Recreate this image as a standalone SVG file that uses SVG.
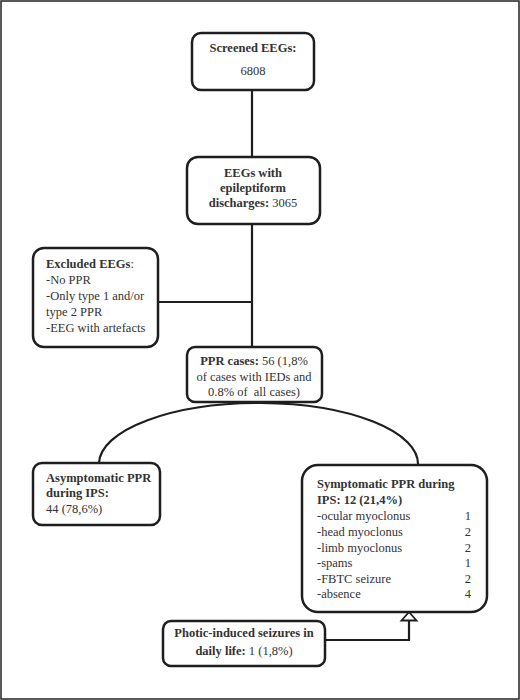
<svg xmlns="http://www.w3.org/2000/svg" width="520" height="700" viewBox="0 0 520 700">
<style>
.box{fill:#fff;stroke:#1e1e1e;stroke-width:2.5}
.t{font-family:"Liberation Serif","Times New Roman",serif;font-size:12.5px;fill:#333}
.b{font-weight:bold}
.c{text-anchor:middle}
.e{text-anchor:end}
.ln{fill:none;stroke:#1e1e1e;stroke-width:2.2}
</style>
<rect x="1" y="1" width="518" height="698" fill="#fff" stroke="#222" stroke-width="1.5"/>
<g id="connectors">
<line class="ln" x1="252" y1="90" x2="252" y2="157"/>
<line class="ln" x1="252" y1="224" x2="252" y2="347"/>
<line class="ln" x1="158" y1="302" x2="252" y2="302"/>
<path class="ln" d="M 99 463 A 159.5 61 0 0 1 418 465"/>
<polyline class="ln" points="325,640 409,640 409,620"/>
<polygon points="409,612 401.5,620.5 416.5,620.5" fill="#fff" stroke="#1e1e1e" stroke-width="1.8"/>
</g>
<g id="screened">
<rect class="box" x="192" y="33" width="122" height="57" rx="9"/>
<text class="t b c" x="253" y="52">Screened EEGs:</text>
<text class="t c" x="253" y="75">6808</text>
</g>
<g id="epileptiform">
<rect class="box" x="187" y="157" width="133" height="67" rx="11"/>
<text class="t b c" x="253" y="177">EEGs with</text>
<text class="t b c" x="253" y="192">epileptiform</text>
<text class="t c" x="253" y="207"><tspan class="b">discharges:</tspan> 3065</text>
</g>
<g id="excluded">
<rect class="box" x="33" y="248" width="125" height="99" rx="11"/>
<text class="t" x="46" y="268"><tspan class="b">Excluded EEGs</tspan>:</text>
<text class="t" x="46" y="284">-No PPR</text>
<text class="t" x="46" y="300">-Only type 1 and/or</text>
<text class="t" x="46" y="316">type 2 PPR</text>
<text class="t" x="46" y="332">-EEG with artefacts</text>
</g>
<g id="ppr">
<rect class="box" x="187" y="347" width="135" height="55" rx="8"/>
<text class="t c" x="254" y="365"><tspan class="b">PPR cases:</tspan> 56 (1,8%</text>
<text class="t c" x="254" y="381">of cases with IEDs and</text>
<text class="t c" x="254" y="396" xml:space="preserve">0.8% of  all cases)</text>
</g>
<g id="asymptomatic">
<rect class="box" x="33" y="463" width="127" height="62" rx="9"/>
<text class="t b" x="46" y="482">Asymptomatic PPR</text>
<text class="t b" x="46" y="497">during IPS:</text>
<text class="t" x="46" y="513">44 (78,6%)</text>
</g>
<g id="symptomatic">
<rect class="box" x="302" y="465" width="185" height="147" rx="16"/>
<text class="t b" x="317" y="488">Symptomatic PPR during</text>
<text class="t b" x="317" y="504">IPS: 12 (21,4%)</text>
<text class="t" x="317" y="520">-ocular myoclonus</text>
<text class="t" x="317" y="536">-head myoclonus</text>
<text class="t" x="317" y="552">-limb myoclonus</text>
<text class="t" x="317" y="567">-spams</text>
<text class="t" x="317" y="583">-FBTC seizure</text>
<text class="t" x="317" y="598">-absence</text>
<text class="t e" x="471" y="520">1</text>
<text class="t e" x="471" y="536">2</text>
<text class="t e" x="471" y="552">2</text>
<text class="t e" x="471" y="567">1</text>
<text class="t e" x="471" y="583">2</text>
<text class="t e" x="471" y="598">4</text>
</g>
<g id="photic">
<rect class="box" x="163" y="621" width="162" height="45" rx="8"/>
<text class="t b c" x="244" y="637">Photic-induced seizures in</text>
<text class="t c" x="244" y="655"><tspan class="b">daily life:</tspan> 1 (1,8%)</text>
</g>
</svg>
